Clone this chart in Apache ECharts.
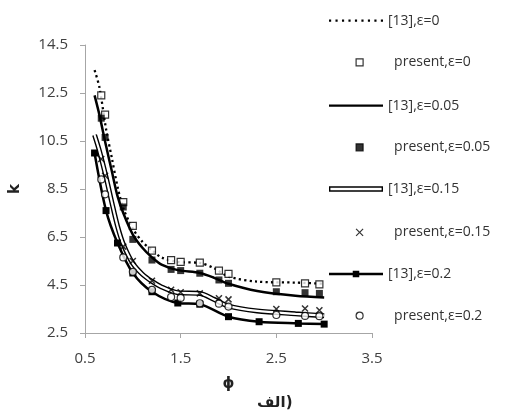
<!DOCTYPE html>
<html>
<head>
<meta charset="utf-8">
<script src="https://cdn.jsdelivr.net/npm/echarts@6/dist/echarts.min.js"></script>
<style>html,body{margin:0;padding:0;background:#fff}#c{width:514px;height:419px}</style>
</head>
<body>
<div id="c"></div>
<script>
// ---- data ----
const presentX   = [0.67, 0.71, 0.9, 1.0, 1.2, 1.4, 1.5, 1.7, 1.9, 2.0, 2.5, 2.8, 2.95];
const presentE0  = [12.4, 11.6, 7.95, 6.96, 5.93, 5.54, 5.46, 5.43, 5.1, 4.96, 4.61, 4.57, 4.53];
const presentE005= [11.45, 10.65, 7.75, 6.4, 5.54, 5.15, 5.1, 4.99, 4.71, 4.57, 4.22, 4.18, 4.15];
const presentE015= [9.75, 9.05, 6.1, 5.5, 4.68, 4.3, 4.2, 4.15, 3.95, 3.9, 3.5, 3.52, 3.45];
const presentE02 = [8.9, 8.28, 5.65, 5.05, 4.3, 4.0, 3.96, 3.74, 3.72, 3.6, 3.25, 3.21, 3.2];

const refX    = [0.6, 0.65, 0.72, 0.78, 0.84, 0.9, 1.0, 1.1, 1.2, 1.3, 1.47, 1.7, 1.85, 2.0, 2.3, 2.7, 3.0];
const refE0   = [13.45, 12.75, 11.0, 9.8, 8.6, 7.7, 6.85, 6.3, 5.95, 5.65, 5.46, 5.42, 5.2, 4.85, 4.64, 4.6, 4.55];
const refE005 = [12.4, 11.6, 10.3, 9.25, 8.2, 7.5, 6.6, 6.05, 5.65, 5.35, 5.12, 5.0, 4.8, 4.55, 4.25, 4.05, 3.98];
const refE015 = [10.75, 10.1, 9.0, 7.95, 6.95, 6.2, 5.4, 4.95, 4.65, 4.42, 4.18, 4.15, 3.9, 3.62, 3.42, 3.3, 3.22];
const refX02  = [0.6, 0.72, 0.84, 1.0, 1.2, 1.47, 1.7, 2.0, 2.32, 2.73, 3.0];
const refE02  = [10.0, 7.6, 6.25, 5.0, 4.22, 3.75, 3.7, 3.18, 2.97, 2.9, 2.87];

const seriesNames = ['[13],ε=0', 'present,ε=0', '[13],ε=0.05', 'present,ε=0.05',
                     '[13],ε=0.15', 'present,ε=0.15', '[13],ε=0.2', 'present,ε=0.2'];
const xTicks = [0.5, 1.5, 2.5, 3.5];
const yTicks = [2.5, 4.5, 6.5, 8.5, 10.5, 12.5, 14.5];
const xName = 'ϕ', yName = 'k', caption = 'الف)';

// ---- build ----
const zip = (xs, ys) => xs.map((x, i) => [x, ys[i]]);
const font = 'Open Sans';
const txt = '#404040';
const axisGray = '#a6a6a6';

// legend icons (shapes only)
let dots = '';
for (let i = 0; i < 9; i++) dots += 'M' + (i * 6.6) + ',0h2.2v2.2h-2.2z';
const lineIcons = [
  'path://' + dots,
  'path://M0,0H58V2.5H0Z',
  'path://M0,0H58V6H0Z M1.5,1.6V4.4H56.5V1.6Z',
  'path://M0,2.25H58V4.75H0Z M25.5,0H32.5V7H25.5Z'
];
const legendCenters = [21.7, 63.3, 106.7, 148.3, 190, 233.3, 275, 316.7];
const legends = seriesNames.map((n, i) => {
  const isLine = i % 2 === 0;
  const base = {
    data: [isLine ? {name: n, icon: lineIcons[i / 2], itemStyle: {color: '#000', borderWidth: 0}}
                  : {name: n, itemStyle: {borderWidth: 1.2}}],
    orient: 'vertical', padding: 0, selectedMode: false,
    textStyle: {fontFamily: font, fontSize: 14, color: '#333'}
  };
  if (isLine) {
    return Object.assign(base, {left: 329, top: legendCenters[i] - 8, itemWidth: 54, itemHeight: 14});
  }
  base.textStyle.padding = [0, 0, 0, 26];
  return Object.assign(base, {left: 355.5, top: legendCenters[i] - 8, itemWidth: 7, itemHeight: 7});
});

const option = {
  animation: false,
  backgroundColor: '#fff',
  title: {text: caption, left: 252, top: 391,
          textStyle: {fontFamily: 'DejaVu Sans', fontSize: 15, fontWeight: 'bold', color: '#222'}},
  grid: {left: 82, right: 142, top: 45, bottom: 86},
  legend: legends,
  xAxis: {
    type: 'value', min: xTicks[0], max: xTicks[xTicks.length - 1], interval: 1,
    name: xName, nameLocation: 'middle', nameGap: 44,
    nameTextStyle: {fontFamily: 'DejaVu Sans', fontSize: 15, fontWeight: 'bold', color: '#222'},
    axisLine: {lineStyle: {color: axisGray, width: 1}},
    axisTick: {show: true, length: 5, lineStyle: {color: axisGray}},
    splitLine: {show: false},
    axisLabel: {margin: 18, fontFamily: font, fontSize: 15, color: txt, formatter: v => v.toFixed(1)}
  },
  yAxis: {
    type: 'value', min: yTicks[0], max: yTicks[yTicks.length - 1], interval: 2,
    name: yName, nameLocation: 'middle', nameGap: 62, nameRotate: 90,
    nameTextStyle: {fontFamily: 'DejaVu Sans', fontSize: 15, fontWeight: 'bold', color: '#222'},
    axisLine: {show: true, lineStyle: {color: axisGray, width: 1}},
    axisTick: {show: true, length: 5, lineStyle: {color: axisGray}},
    splitLine: {show: false},
    axisLabel: {margin: 17, fontFamily: font, fontSize: 15, color: txt, formatter: v => v.toFixed(1)}
  },
  series: [
    {name: seriesNames[0], type: 'line', data: zip(refX, refE0), smooth: 0.3, showSymbol: false, symbol: 'none',
     lineStyle: {color: '#000', width: 2.3, type: [2.2, 3.2]}, itemStyle: {color: '#000'}, z: 2},
    {name: seriesNames[1], type: 'scatter', data: zip(presentX, presentE0), symbol: 'rect', symbolSize: 7,
     itemStyle: {color: '#fff', borderColor: '#000', borderWidth: 1.2}, z: 3},
    {name: seriesNames[2], type: 'line', data: zip(refX, refE005), smooth: 0.3, showSymbol: false, symbol: 'none',
     lineStyle: {color: '#000', width: 2.5}, itemStyle: {color: '#000'}, z: 4},
    {name: seriesNames[3], type: 'scatter', data: zip(presentX, presentE005), symbol: 'rect', symbolSize: 7,
     itemStyle: {color: '#000', borderColor: '#000', borderWidth: 0}, z: 5},
    {name: seriesNames[4], type: 'line', data: zip(refX, refE015), smooth: 0.3, showSymbol: false, symbol: 'none',
     lineStyle: {color: '#000', width: 5}, itemStyle: {color: '#000'}, z: 6},
    {name: seriesNames[4] + ' ', type: 'line', data: zip(refX, refE015), smooth: 0.3, showSymbol: false, symbol: 'none',
     lineStyle: {color: '#fff', width: 2.2}, itemStyle: {color: '#fff'}, z: 7},
    {name: seriesNames[5], type: 'scatter', data: zip(presentX, presentE015), symbol: 'path://M0,0L8,8M8,0L0,8',
     symbolSize: 6, itemStyle: {color: '#000', borderColor: '#000', borderWidth: 1.5}, z: 8},
    {name: seriesNames[6], type: 'line', data: zip(refX02, refE02), smooth: 0.3, showSymbol: true, symbol: 'rect',
     symbolSize: 7, lineStyle: {color: '#000', width: 2.5}, itemStyle: {color: '#000', borderWidth: 0}, z: 9},
    {name: seriesNames[7], type: 'scatter', data: zip(presentX, presentE02), symbol: 'circle', symbolSize: 7,
     itemStyle: {color: '#fff', borderColor: '#000', borderWidth: 1.2}, z: 10}
  ]
};
const chart = echarts.init(document.getElementById('c'), null, {renderer: 'canvas'});
chart.setOption(option);
</script>
</body>
</html>
